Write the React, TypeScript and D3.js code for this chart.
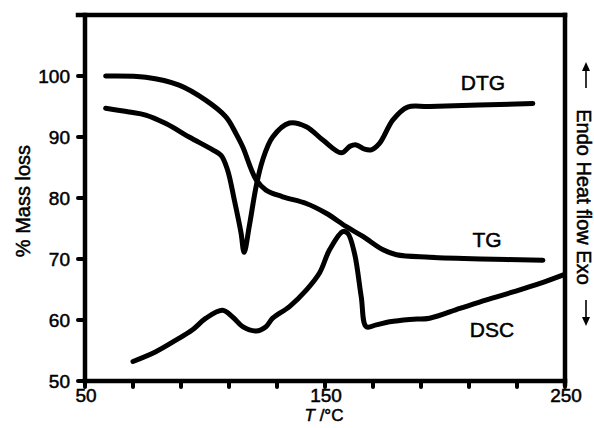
import React from 'react';
import * as d3 from 'd3';

// TG curve (% mass)
const tgTemp = [58.6, 75.3, 89.2, 100.4, 108.7, 113, 115.7, 121.3, 125.4, 132.4, 142.2, 150.5, 158.9, 165.8, 174.2, 179.8, 193.6, 215, 240.8];
const tgMass = [100.0, 99.8, 98.5, 96.0, 93.3, 90.5, 88.4, 83.0, 81.3, 80.2, 79.1, 77.5, 75.3, 73.7, 71.5, 70.7, 70.3, 70.0, 69.8];

// DTG curve
const dtgTemp = [58.6, 68.4, 75.3, 83.7, 93.4, 103.2, 106.7, 109.4, 112.2, 115.0, 116.3, 118.5, 121.3, 124.0, 128.2, 135.2, 142.2, 149.1, 156.8, 160.5, 163.0, 166.5, 169.3, 172.8, 178.3, 184.4, 193.6, 236.6];
const dtgVal = [94.7, 94.1, 93.6, 92.2, 90.0, 87.9, 87.0, 84.6, 79.7, 74.3, 71.1, 75.5, 81.9, 86.2, 90.0, 92.3, 91.7, 89.5, 87.4, 88.5, 88.7, 88.0, 87.9, 89.0, 92.8, 94.9, 95.0, 95.5];

// DSC curve (arbitrary heat flow, drawn on the same frame)
const dscTemp = [70.0, 79.5, 87.9, 94.8, 100.4, 107.3, 111.5, 115.7, 121.3, 125.4, 128.2, 135.2, 142.2, 147.7, 151.9, 157.4, 159.5, 162.3, 165.1, 167.2, 171.4, 176.9, 185.3, 193.6, 206.2, 217.3, 228.4, 239.6, 249.3];
const dscVal = [53.2, 54.8, 56.7, 58.4, 60.3, 61.6, 60.5, 58.9, 58.2, 58.9, 60.3, 62.2, 64.9, 67.7, 71.5, 74.5, 74.2, 70.9, 63.8, 58.9, 59.2, 59.7, 60.1, 60.3, 61.9, 63.3, 64.6, 66.0, 67.4];

const xTicks = [50, 70, 90, 110, 130, 150, 170, 190, 210, 230, 250];
const xLabels = [50, 150, 250];
const yTicks = [50, 60, 70, 80, 90, 100];

const W = 594;
const H = 428;
const font = '"Liberation Sans", Arial, Helvetica, sans-serif';

export default function App() {
  const x = d3.scaleLinear().domain([50, 250]).range([85, 565]);
  const y = d3.scaleLinear().domain([50, 110]).range([381, 15]);

  const mkLine = (ts: number[], vs: number[]) =>
    d3.line<number>()
      .x((_, i) => x(ts[i]))
      .y((v) => y(v))
      .curve(d3.curveCatmullRom.alpha(0.5))(vs) as string;

  const curves = [
    mkLine(tgTemp, tgMass),
    mkLine(dtgTemp, dtgVal),
    mkLine(dscTemp, dscVal),
  ];

  return (
    <svg width={W} height={H} style={{ display: 'block', position: 'absolute', left: 0, top: 0, background: '#fff' }}>
      {/* frame */}
      <g stroke="#000" strokeWidth={4.5} fill="none" strokeLinecap="square">
        <line x1={78} x2={x(250)} y1={y(110)} y2={y(110)} />
        <line x1={x(50)} x2={x(50)} y1={y(110)} y2={y(50)} />
        <line x1={x(50)} x2={x(250)} y1={y(50)} y2={y(50)} />
        <line x1={x(250)} x2={x(250)} y1={y(110)} y2={y(50) + 3} />
      </g>
      {/* ticks */}
      <g stroke="#000" strokeWidth={4} strokeLinecap="round">
        {xTicks.map((t) => (
          <line key={'xt' + t} x1={x(t)} x2={x(t)} y1={y(50)} y2={y(50) + 6} />
        ))}
        {yTicks.map((t) => (
          <line key={'yt' + t} x1={x(50) - 7} x2={x(50)} y1={y(t)} y2={y(t)} />
        ))}
      </g>
      <g fontFamily={font} fontSize={19} fill="#000" stroke="#000" strokeWidth={0.5}>
        {xLabels.map((t) => (
          <text key={'xl' + t} x={x(t) + 1} y={402} textAnchor="middle">{t}</text>
        ))}
        {yTicks.map((t) => (
          <text key={'yl' + t} x={70} y={y(t)} textAnchor="end" dominantBaseline="central">{t}</text>
        ))}
        <text x={324} y={421} fontSize={17} textAnchor="middle">
          <tspan fontStyle="italic">T</tspan> /°C
        </text>
        <text transform="translate(23,201) rotate(-90)" fontSize={20} textAnchor="middle" dominantBaseline="central">% Mass loss</text>
        <text transform="translate(584,197) rotate(90)" fontSize={20} textAnchor="middle" dominantBaseline="central">Endo Heat flow Exo</text>
      </g>
      {/* arrows on right label */}
      <g stroke="#000" strokeWidth={1.6} fill="#000">
        <line x1={586} x2={586} y1={88} y2={68} />
        <path d="M582,71 L586,62 L590,71 Z" stroke="none" />
        <line x1={586} x2={586} y1={300} y2={320} />
        <path d="M582,317 L586,326 L590,317 Z" stroke="none" />
      </g>
      {/* curves */}
      <g fill="none" stroke="#000" strokeWidth={5} strokeLinecap="round" strokeLinejoin="round">
        {curves.map((d, i) => (
          <path key={i} d={d} />
        ))}
      </g>
      <g fontFamily={font} fontSize={21} fill="#000" stroke="#000" strokeWidth={0.5}>
        <text x={483} y={90} textAnchor="middle">DTG</text>
        <text x={487} y={247} textAnchor="middle">TG</text>
        <text x={492} y={337} textAnchor="middle">DSC</text>
      </g>
    </svg>
  );
}
